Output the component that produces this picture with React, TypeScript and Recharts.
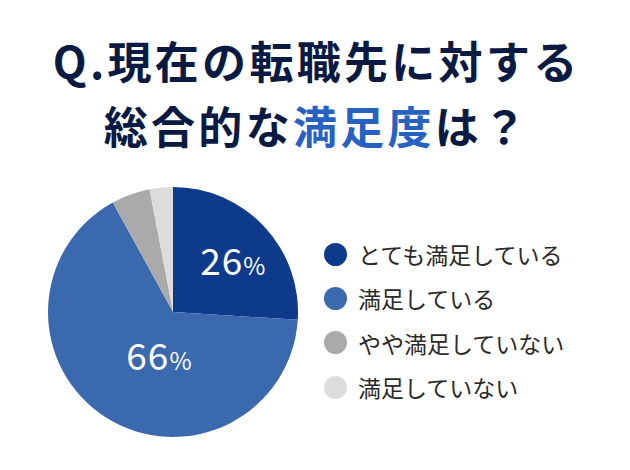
import { PieChart, Pie, Cell } from "recharts";

const categories = ["とても満足している", "満足している", "やや満足していない", "満足していない"];
const values = [26, 66, 5, 3];
const shownLabels = [true, true, false, false];
const COLORS = ["#0e3a8c", "#3a69ad", "#aaaaaa", "#dcdcdc"];

const data = categories.map((name, i) => ({ name, value: values[i] }));

const FONT = "'Noto Sans CJK JP', 'Noto Sans', sans-serif";
const RAD = Math.PI / 180;

// small nudges so the labels sit where the original put them
const labelNudge = [
  { r: 0.62, da: -3.7 },
  { r: 0.385, da: 15.4 },
];

function renderLabel(props: any) {
  const { cx, cy, midAngle, outerRadius, index, value } = props;
  if (!shownLabels[index]) return null;
  const n = labelNudge[index];
  const a = (midAngle + n.da) * RAD;
  const x = cx + outerRadius * n.r * Math.cos(-a);
  const y = cy + outerRadius * n.r * Math.sin(-a);
  return (
    <text x={x} y={y + 12} textAnchor="middle" fill="#ffffff" fontFamily={FONT}>
      <tspan fontSize={37} letterSpacing={1}>{value}</tspan>
      <tspan fontSize={24}>%</tspan>
    </text>
  );
}

function LegendBox() {
  return (
    <div style={{ position: "absolute", left: 324, top: 232, fontFamily: FONT }}>
      {categories.map((name, i) => (
        <div key={name} style={{ display: "flex", alignItems: "center", height: 44.3 }}>
          <span
            style={{
              display: "inline-block",
              width: 23,
              height: 23,
              borderRadius: "50%",
              background: COLORS[i],
              marginRight: 11,
            }}
          />
          <span style={{ fontSize: 23, color: "#2a2a2a" }}>{name}</span>
        </div>
      ))}
    </div>
  );
}

const titleProps = {
  textAnchor: "middle" as const,
  fontFamily: FONT,
  fontSize: 44,
  fontWeight: 700,
  letterSpacing: 3.3,
  fill: "#0b1a42",
};

export default function App() {
  return (
    <div style={{ position: "absolute", left: 0, top: 0, width: 630, height: 470, background: "#fff" }}>
      <PieChart width={630} height={470}>
        <text x={316.6} y={79} {...titleProps}>
          Q.現在の転職先に対する
        </text>
        <text x={316.6} y={143.5} {...titleProps}>
          総合的な<tspan fill="#2762c2">満足度</tspan>は？
        </text>
        <Pie
          data={data}
          dataKey="value"
          nameKey="name"
          cx={168}
          cy={307}
          outerRadius={125}
          startAngle={90}
          endAngle={-270}
          stroke="none"
          label={renderLabel}
          labelLine={false}
          isAnimationActive={false}
        >
          {data.map((_, i) => (
            <Cell key={i} fill={COLORS[i]} />
          ))}
        </Pie>
      </PieChart>
      <LegendBox />
    </div>
  );
}
